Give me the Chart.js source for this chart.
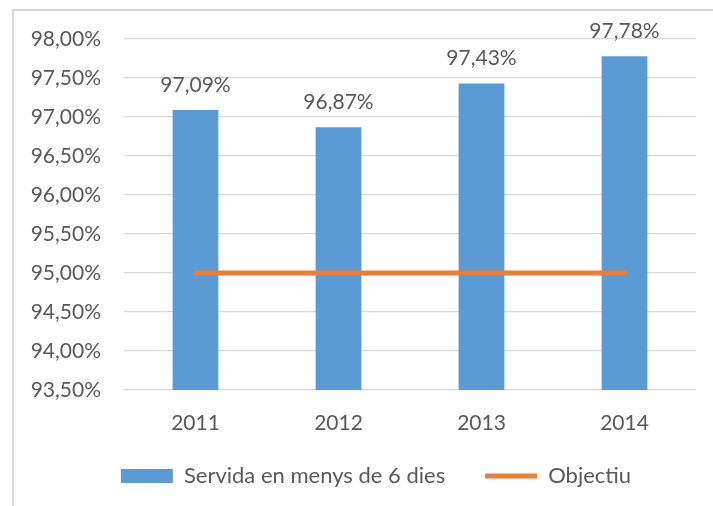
<!DOCTYPE html>
<html>
<head>
<meta charset="utf-8">
<script src="https://cdn.jsdelivr.net/npm/chart.js"></script>
<style>
  body { margin: 0; background: #fff; }
  #wrap { position: relative; width: 713px; height: 506px; overflow: hidden; }
  #frame { position: absolute; left: 12px; top: 9px; width: 800px; height: 600px;
           border-left: 2px solid #d9d9d9; border-top: 2px solid #d9d9d9; }
  canvas { position: absolute; left: 0; top: 0; }
</style>
</head>
<body>
<div id="wrap">
  <div id="frame"></div>
  <canvas id="chart"></canvas>
</div>
<script>
// chart data
const years = ['2011', '2012', '2013', '2014'];
const servida = [97.09, 96.87, 97.43, 97.78];
const objectiu = [95, 95, 95, 95];
const yMin = 93.5;
const yMax = 98;
const yStep = 0.5;

const fontFamily = "Lato, 'Open Sans', sans-serif";
const textColor = '#595959';

function pct(v) {
    return v.toFixed(2).replace('.', ',') + '%';
}

// labels on top of the bars
const barLabels = {
    id: 'barLabels',
    afterDatasetsDraw(chart) {
        const ctx = chart.ctx;
        const meta = chart.getDatasetMeta(0);
        ctx.save();
        ctx.font = '21px ' + fontFamily;
        ctx.fillStyle = textColor;
        ctx.textAlign = 'center';
        ctx.textBaseline = 'alphabetic';
        meta.data.forEach((bar, i) => {
            ctx.fillText(pct(servida[i]), bar.x, bar.y - 18);
        });
        ctx.restore();
    }
};

// excel centres the legend on a wider frame and sits it closer to the axis
const legendShift = {
    id: 'legendShift',
    afterLayout(chart) {
        chart.legend.left += 18;
        chart.legend.right += 18;
        chart.legend.top -= 13;
        chart.legend.bottom -= 13;
    }
};

Chart.defaults.font.family = fontFamily;
Chart.defaults.font.size = 21;
Chart.defaults.color = textColor;

new Chart(document.getElementById('chart'), {
    data: {
        labels: years,
        datasets: [{
            type: 'bar',
            label: 'Servida en menys de 6 dies',
            data: servida,
            backgroundColor: '#5b9bd5',
            categoryPercentage: 1,
            barPercentage: 0.32,
            pointStyle: 'rect',
            order: 1
        }, {
            type: 'line',
            label: 'Objectiu',
            data: objectiu,
            borderColor: '#ed7d31',
            backgroundColor: '#ed7d31',
            borderWidth: 5,
            borderCapStyle: 'round',
            pointRadius: 0,
            pointStyle: 'line',
            order: 0
        }]
    },
    options: {
        responsive: true,
        maintainAspectRatio: false,
        animation: false,
        layout: { padding: { left: 20, right: 17, top: 39, bottom: -4 } },
        plugins: {
            tooltip: { enabled: false },
            legend: {
                position: 'bottom',
                labels: {
                    usePointStyle: true,
                    pointStyleWidth: 52,
                    boxHeight: 14,
                    padding: 40,
                    color: textColor,
                    font: { size: 22 },
                    sort: (a, b) => a.datasetIndex - b.datasetIndex
                }
            }
        },
        scales: {
            x: {
                afterFit(scale) { scale.height = 48; },
                grid: { display: false },
                border: { display: false },
                ticks: { padding: 13 }
            },
            y: {
                min: yMin,
                max: yMax,
                afterFit(scale) { scale.width = 104; },
                grid: { color: '#d9d9d9', lineWidth: 1.3, drawTicks: false },
                border: { display: false },
                ticks: {
                    stepSize: yStep,
                    padding: 23,
                    callback: (v) => pct(v)
                }
            }
        }
    },
    plugins: [barLabels, legendShift]
});
</script>
</body>
</html>
